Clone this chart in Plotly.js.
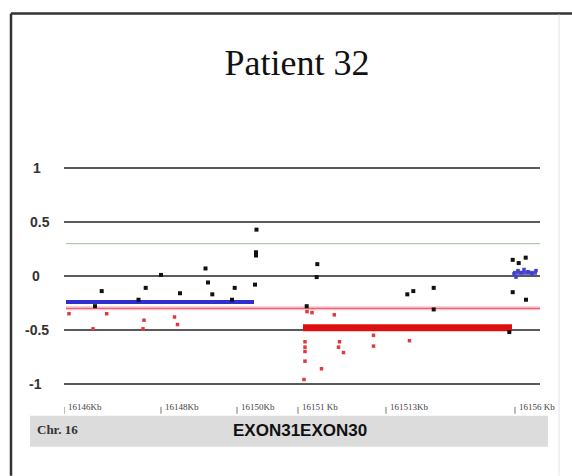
<!DOCTYPE html>
<html>
<head>
<meta charset="utf-8">
<script src="https://cdn.plot.ly/plotly-3.0.1.min.js"></script>
<style>html,body{margin:0;padding:0;background:#fff;}#chart{width:572px;height:476px;}</style>
</head>
<body>
<div id="chart"></div>
<script>
// ---- data (x = probe position along the region, y = log2 ratio) ----
const blackX = [29, 35.7, 72.5, 79.7, 95, 114, 139.5, 142, 146.3, 166, 168.7, 189, 190.5, 190, 190, 240.7, 250.7, 251.3, 341.3, 347.3, 367.7, 367.7, 446.7, 452.7, 459.7, 446.7, 460, 443.3];
const blackY = [-0.28, -0.14, -0.22, -0.11, 0.01, -0.16, 0.07, -0.06, -0.17, -0.22, -0.11, -0.08, 0.43, 0.22, 0.19, -0.28, -0.01, 0.11, -0.17, -0.14, -0.11, -0.31, 0.15, 0.12, 0.17, -0.15, -0.22, -0.52];
const redX = [3, 40.7, 27, 78, 77, 108.5, 111.5, 241, 246, 268.3, 239, 239, 239, 239, 255.5, 238, 273.5, 272.5, 277.5, 307.5, 307.5, 343.5];
const redY = [-0.35, -0.35, -0.49, -0.41, -0.49, -0.38, -0.45, -0.33, -0.34, -0.36, -0.61, -0.66, -0.70, -0.79, -0.86, -0.96, -0.61, -0.66, -0.71, -0.55, -0.65, -0.60];
const blueX = [448, 450, 452, 455, 458, 462, 466, 470];
const blueY = [0.02, -0.01, 0.05, 0.03, 0.06, 0.04, 0.02, 0.05];
// segments
const seg1X = [0, 188], seg1Y = [-0.24, -0.24];
const seg2X = [237, 446], seg2Y = [-0.48, -0.48];
const seg3X = [447, 471], seg3Y = [0.03, 0.03];
// thresholds
const thrX = [0, 474];
const gainThr = 0.3, lossThr = -0.3;
// axis labels
const yTicks = [1, 0.5, 0, -0.5, -1];
const yTickText = ["1", "0.5", "0", "-0.5", "-1"];
const xTickPos = [-2, 95, 171, 232, 320, 449];
const xTickText = ["16146Kb", "16148Kb", "16150Kb", "16151 Kb", "161513Kb", "16156 Kb"];
const titleText = "Patient 32";
const chrText = "Chr. 16";
const exonText = "EXON31EXON30";

// ---- layout helpers (pixel -> paper) ----
const W = 572, H = 476, L = 64, R = 32;
const xRange = [-2, 474];
const yRange = [-1.15, 1.15];
const T = 168 - 0.15 * 108, B = H - (384 + 0.15 * 108);
const pw = W - L - R, ph = H - T - B;
const px = p => (p - L) / pw;
const py = p => (H - B - p) / ph;

const traces = [
  {x: thrX, y: [gainThr, gainThr], mode: 'lines', line: {color: '#a8d0a8', width: 1.3}, hoverinfo: 'skip'},
  {x: thrX, y: [lossThr, lossThr], mode: 'lines', line: {color: '#f9c4cc', width: 4}, hoverinfo: 'skip'},
  {x: thrX, y: [lossThr, lossThr], mode: 'lines', line: {color: '#ee5060', width: 1}, hoverinfo: 'skip'},
  {x: seg1X, y: seg1Y, mode: 'lines', line: {color: '#3030d0', width: 4}},
  {x: seg2X, y: seg2Y, mode: 'lines', line: {color: '#dd1010', width: 7}},
  {x: seg3X, y: seg3Y, mode: 'lines', line: {color: '#5050d8', width: 4}},
  {x: redX, y: redY, mode: 'markers', marker: {color: '#e03a3a', size: 3.5, symbol: 'square'}},
  {x: blackX, y: blackY, mode: 'markers', marker: {color: '#111', size: 4, symbol: 'square'}},
  {x: blueX, y: blueY, mode: 'markers', marker: {color: '#4040c8', size: 3.5, symbol: 'square'}}
];

const annotations = [];
yTicks.forEach((v, i) => {
  const lx = [31, 28, 30, 23, 27][i];
  annotations.push({xref: 'paper', yref: 'y', x: px(lx), y: v, xanchor: 'left', yanchor: 'middle',
    text: '<b>' + yTickText[i] + '</b>', showarrow: false, font: {family: 'Liberation Sans, Arial', size: 14, color: '#333'}});
});
xTickPos.forEach((v, i) => {
  annotations.push({xref: 'x', yref: 'paper', x: v, y: py(407), xanchor: 'left', yanchor: 'middle', xshift: 2,
    text: xTickText[i], showarrow: false, font: {family: 'Liberation Serif, Times New Roman', size: 9, color: '#444'}});
});
annotations.push({xref: 'paper', yref: 'paper', x: px(35), y: py(430), xanchor: 'left', yanchor: 'middle',
  text: '<b>' + chrText + '</b>', showarrow: false, font: {family: 'Liberation Serif, Times New Roman', size: 13, color: '#333'}});
annotations.push({xref: 'paper', yref: 'paper', x: px(300), y: py(431), xanchor: 'center', yanchor: 'middle',
  text: '<b>' + exonText + '</b>', showarrow: false, font: {family: 'Liberation Sans, Arial', size: 17, color: '#111'}});

const shapes = [
  {type: 'rect', xref: 'paper', yref: 'paper', x0: px(30), x1: px(548), y0: py(447), y1: py(416), fillcolor: '#dcdcdc', line: {width: 0}, layer: 'below'},
  {type: 'line', xref: 'paper', yref: 'paper', x0: px(11), x1: px(11), y0: py(476), y1: py(13), line: {color: '#333', width: 2.5}},
  {type: 'line', xref: 'paper', yref: 'paper', x0: px(11), x1: px(572), y0: py(13), y1: py(13), line: {color: '#333', width: 2.5}},
  {type: 'line', xref: 'paper', yref: 'paper', x0: px(559), x1: px(559), y0: py(476), y1: py(14), line: {color: '#e4e4e4', width: 1}}
];
xTickPos.forEach(v => {
  shapes.push({type: 'line', xref: 'x', yref: 'paper', x0: v, x1: v, y0: py(414), y1: py(407), line: {color: '#777', width: 1}});
});

const layout = {
  width: W, height: H,
  margin: {l: L, r: R, t: T, b: B, pad: 0},
  paper_bgcolor: '#fff', plot_bgcolor: '#fff',
  showlegend: false,
  title: {text: titleText, x: 297 / W, xanchor: 'center', y: 1 - 62 / H, yanchor: 'middle', yref: 'container',
    font: {family: 'Liberation Serif, Times New Roman', size: 36, color: '#111'}},
  xaxis: {range: xRange, showgrid: false, zeroline: false, showticklabels: false, ticks: '', showline: false},
  yaxis: {range: yRange, tickvals: yTicks, showticklabels: false, ticks: '', gridcolor: '#5a5a5a', gridwidth: 1.5,
    zeroline: false, showline: false},
  annotations: annotations,
  shapes: shapes
};

Plotly.newPlot('chart', traces, layout, {staticPlot: true, displayModeBar: false});
</script>
</body>
</html>
